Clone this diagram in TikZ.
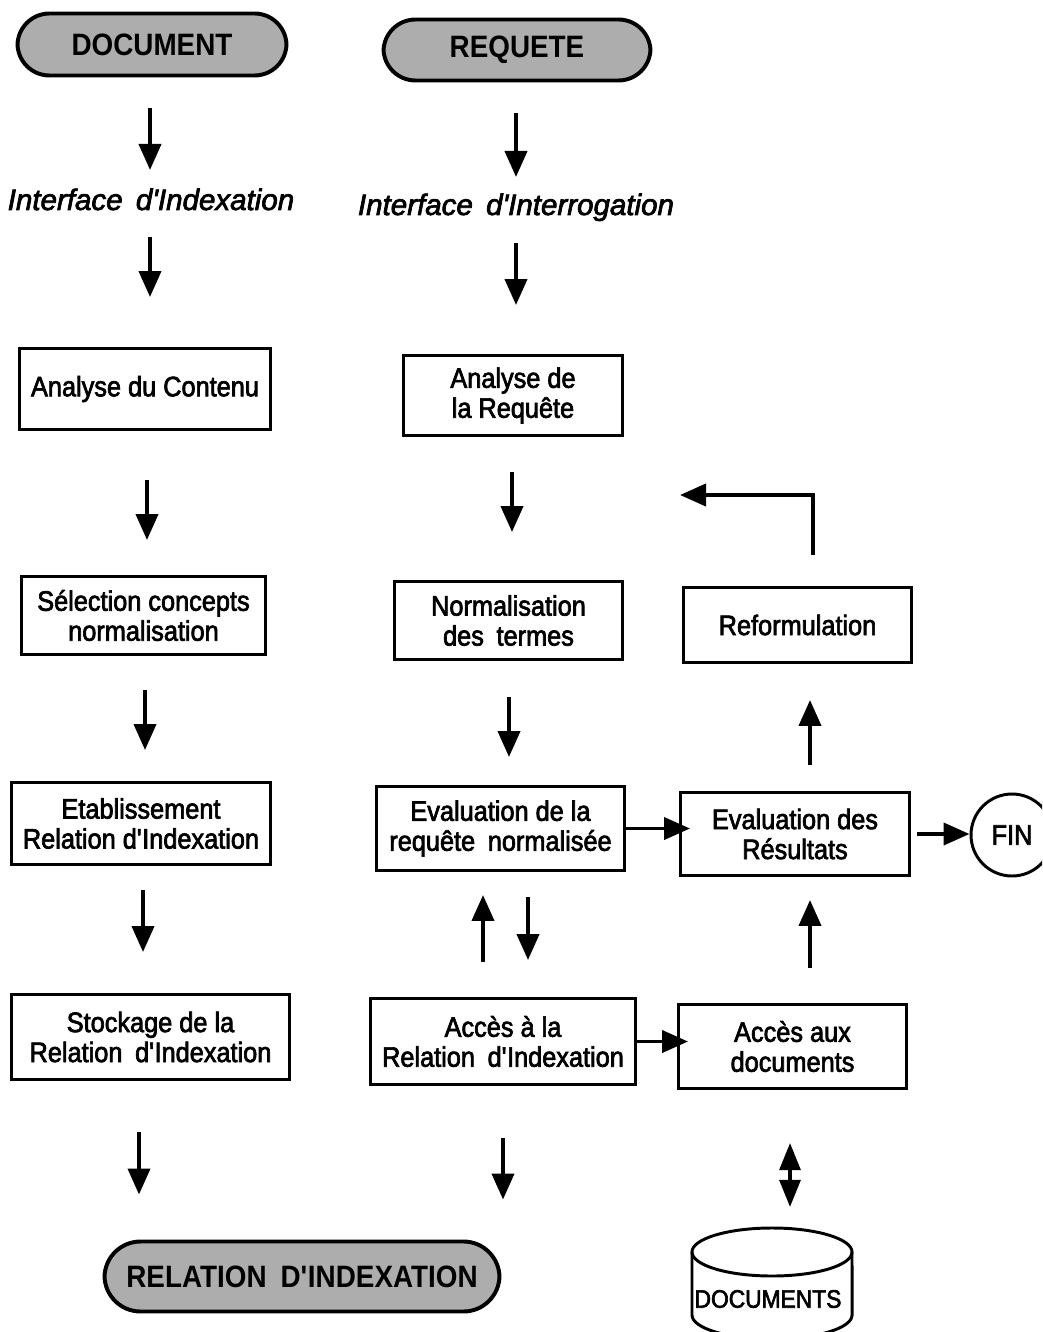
\documentclass[tikz,border=0pt]{standalone}
\usepackage{fontspec}
\setmainfont{Liberation Sans}[FakeStretch=0.9, UprightFeatures={FakeBold=2.4}]
\newfontfamily\labelfamily{Liberation Sans}[ItalicFeatures={FakeBold=2.4}]
\usetikzlibrary{arrows.meta,calc}
\newlength{\upx}\setlength{\upx}{0.025cm}
\newcommand\wsp{\hspace{0.45em}}
\newcommand\apos{\textquotesingle}

\begin{document}
\begin{tikzpicture}[x=0.025cm, y=-0.025cm,
  pill/.style={draw, line width=2.8pt, fill=black!32, rounded corners=0.8cm,
    inner sep=0pt, font=\bfseries\fontsize{22}{24}\selectfont},
  stepbox/.style={draw, line width=2.1pt, align=center, inner sep=0pt,
    font=\fontsize{20}{21.3}\selectfont},
  lbl/.style={inner sep=0pt, anchor=base,
    font=\labelfamily\itshape\fontsize{21}{24}\selectfont},
  arr/.style={line width=2.8pt, -{Triangle[length=0.65cm,width=0.55cm]}},
  dbl/.style={line width=2.8pt,
    {Triangle[length=0.68cm,width=0.52cm]}-{Triangle[length=0.68cm,width=0.52cm]}}
]
\useasboundingbox (0,0) rectangle (1042,1332);
\clip (0,0) rectangle (1042,1332);

% terminal pills
\node[pill, minimum width=269\upx, minimum height=62\upx] (doc) at (152,44.5) {DOCUMENT};
\node[pill, minimum width=267\upx, minimum height=61\upx] (req) at (517,50) {REQUETE};
\node[pill, rounded corners=0.9cm, minimum width=395\upx, minimum height=70\upx] (rel)
  at (302,1276.5) {RELATION\wsp D\apos INDEXATION};

% interface labels
\node[lbl] (iidx) at (151,210) {Interface\wsp d\apos Indexation};
\node[lbl] (iint) at (516,215) {Interface\wsp d\apos Interrogation};

% indexing chain
\node[stepbox, minimum width=251\upx, minimum height=81\upx] (ana1) at (145,389) {Analyse du Contenu};
\node[stepbox, minimum width=244\upx, minimum height=78\upx] (sel) at (143.5,615.5) {S\'election concepts\\ normalisation};
\node[stepbox, minimum width=259\upx, minimum height=82\upx] (etab) at (141,823.5) {Etablissement\\Relation d\apos Indexation};
\node[stepbox, minimum width=278\upx, minimum height=85\upx] (stock) at (150.5,1037) {Stockage de la\\Relation\wsp d\apos Indexation};

% query chain
\node[stepbox, minimum width=219\upx, minimum height=80\upx] (ana2) at (513,395.5) {Analyse de\\la Requ\^ete};
\node[stepbox, minimum width=228\upx, minimum height=78\upx] (norm) at (508.5,620.5) {Normalisation\\des\wsp termes};
\node[stepbox, minimum width=248\upx, minimum height=84\upx] (evreq) at (500.5,828.5) {Evaluation de la\\requ\^ete\wsp normalis\'ee};
\node[stepbox, minimum width=265\upx, minimum height=86\upx] (accrel) at (503,1041.5) {Acc\`es \`a la\\Relation\wsp d\apos Indexation};

% results chain
\node[stepbox, minimum width=228\upx, minimum height=75\upx] (refo) at (797.5,625) {Reformulation};
\node[stepbox, minimum width=229\upx, minimum height=83\upx] (evres) at (795,834) {Evaluation des\\R\'esultats};
\node[stepbox, minimum width=228\upx, minimum height=84\upx] (accdoc) at (792.5,1046.5) {Acc\`es aux\\documents};
\node[circle, draw, line width=2.1pt, minimum size=82\upx, inner sep=0pt,
  font=\fontsize{20}{22}\selectfont] (fin) at (1012,835) {FIN};

% document store
\coordinate (dbtop) at (772,1228);
\draw[line width=2.1pt, fill=white] (692,1252) -- (692,1315)
  arc[start angle=180, end angle=360, x radius=2cm, y radius=0.6cm] -- (852,1252);
\draw[line width=2.1pt] (772,1252) ellipse[x radius=2cm, y radius=0.6cm];
\node[inner sep=0pt, font=\fontsize{18}{20}\selectfont] (dbtext) at (768,1299) {DOCUMENTS};

% indexing flow
\draw[arr] ($(doc.south)+(-2,31)$) -- ($(doc.south |- iidx.base)+(-2,-40)$);
\draw[arr] ($(iidx.base)+(-1,27)$) -- ($(iidx.base |- ana1.north)+(-1,-50)$);
\draw[arr] ($(ana1.south)+(2,49)$) -- ($(ana1.south |- sel.north)+(2,-35)$);
\draw[arr] ($(sel.south)+(1.5,34)$) -- ($(sel.south |- etab.north)+(1.5,-31)$);
\draw[arr] ($(etab.south)+(2,24)$) -- ($(etab.south |- stock.north)+(2,-41)$);
\draw[arr] ($(stock.south)+(-11.5,51)$) -- ($(stock.south |- rel.north)+(-11.5,-45)$);

% query flow
\draw[arr] ($(req.south)+(-1,31)$) -- ($(req.south |- iint.base)+(-1,-38)$);
\draw[arr] ($(iint.base)+(0,28)$) -- ($(iint.base |- ana2.north)+(0,-49)$);
\draw[arr] ($(ana2.south)+(-1,35)$) -- ($(ana2.south |- norm.north)+(-1,-48)$);
\draw[arr] ($(norm.south)+(0.5,36)$) -- ($(norm.south |- evreq.north)+(0.5,-28)$);
\draw[arr] ($(accrel.north)+(-20,-35)$) -- ($(accrel.north |- evreq.south)+(-20,23)$);
\draw[arr] ($(evreq.south)+(27.5,25)$) -- ($(evreq.south |- accrel.north)+(27.5,-37)$);
\draw[arr] ($(accrel.south)+(0,52)$) -- ($(accrel.south |- rel.north)+(0,-40)$);

% horizontal links
\draw[arr] (evreq.east) -- ($(evreq.east -| evres.west)+(11,0)$);
\draw[arr] (accrel.east) -- ($(accrel.east -| accdoc.west)+(11,0)$);
\draw[arr] ($(evres.east)+(6,0)$) -- (evres.east -| fin.west);

% results flow and feedback
\draw[arr] ($(evres.north)+(15,-26)$) -- ($(evres.north |- refo.south)+(15,36)$);
\draw[arr] ($(accdoc.north)+(17.5,-35)$) -- ($(accdoc.north |- evres.south)+(17.5,23)$);
\coordinate (back) at (680,495);
\draw[arr] ($(refo.north)+(15.5,-31)$) |- (back);
\draw[dbl] ($(accdoc.south)+(-2.5,53)$) -- ($(accdoc.south |- dbtop)+(-2.5,-21)$);
\end{tikzpicture}
\end{document}
